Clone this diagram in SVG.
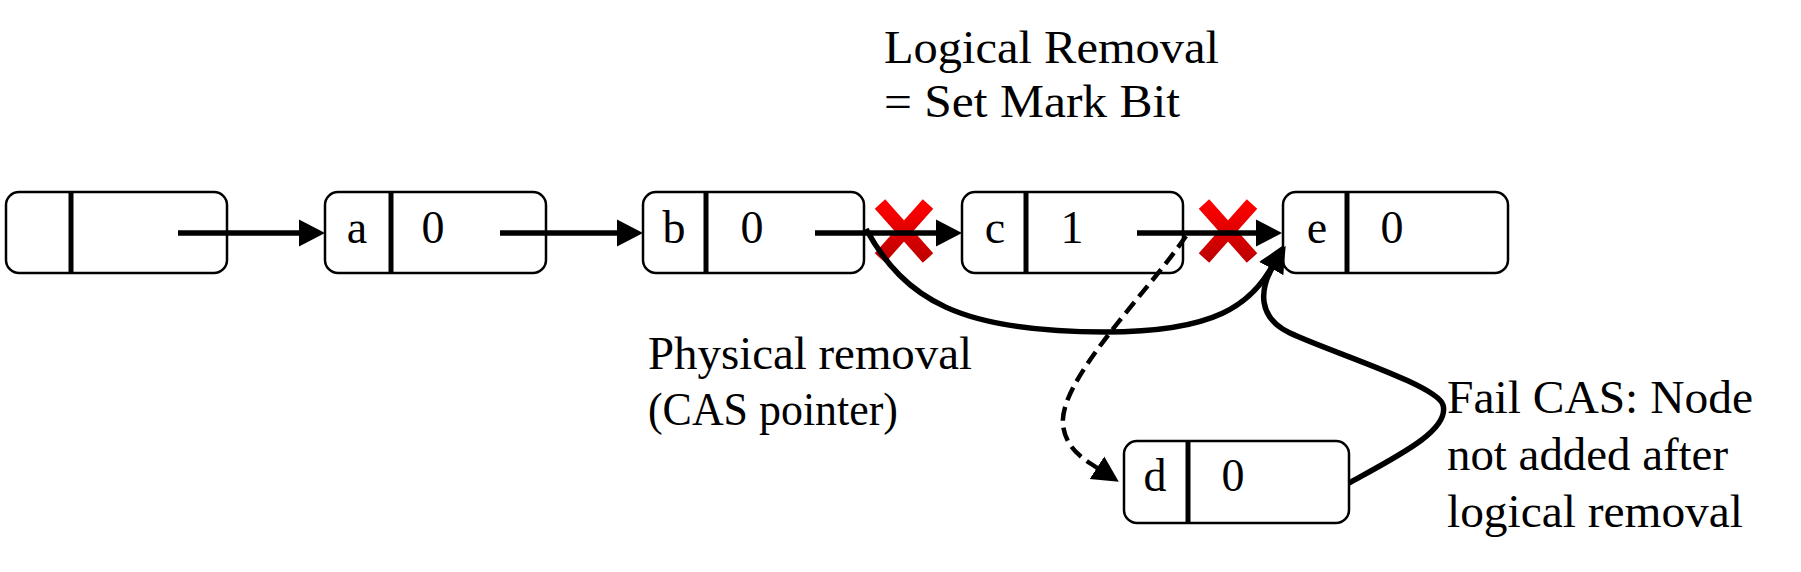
<svg xmlns="http://www.w3.org/2000/svg" width="1801" height="572" viewBox="0 0 1801 572">
<style>
.box{fill:#fff;stroke:#000;stroke-width:2.5}
.div{stroke:#000;stroke-width:5}
.t{font-family:"Liberation Serif","Times New Roman",serif;font-size:46px;fill:#000}
.lbl{font-family:"Liberation Serif","Times New Roman",serif;font-size:46px;fill:#000;text-anchor:middle}
.arr{fill:none;stroke:#000;stroke-width:5.5;marker-end:url(#ah)}
.dash{fill:none;stroke:#000;stroke-width:4.5;stroke-dasharray:14 7;marker-end:url(#ah)}
</style>
<defs>
<marker id="ah" markerUnits="userSpaceOnUse" viewBox="0 -15 28 30" refX="6" refY="0" markerWidth="28" markerHeight="30" orient="auto">
<path d="M0,-13.5 L26,0 L0,13.5 z" fill="#000"/>
</marker>
<linearGradient id="xg" x1="0" y1="0" x2="0" y2="1">
<stop offset="0" stop-color="#ff0000"/>
<stop offset="1" stop-color="#c00000"/>
</linearGradient>
<path id="xm" d="M-24,-27 L24,27 M24,-27 L-24,27" fill="none" stroke="url(#xg)" stroke-width="14"/>
</defs>

<g id="marks">
<use href="#xm" transform="translate(904,231)"/>
<use href="#xm" transform="translate(1228,231)"/>
</g>

<g id="n0">
<rect class="box" x="6" y="192" width="221" height="81" rx="13"/>
<line class="div" x1="71" y1="192" x2="71" y2="273"/>
</g>
<g id="na">
<rect class="box" x="325" y="192" width="221" height="81" rx="13"/>
<line class="div" x1="391" y1="192" x2="391" y2="273"/>
<text class="lbl" x="357" y="243">a</text>
<text class="lbl" x="433" y="243">0</text>
</g>
<g id="nb">
<rect class="box" x="643" y="192" width="221" height="81" rx="13"/>
<line class="div" x1="706" y1="192" x2="706" y2="273"/>
<text class="lbl" x="674" y="243">b</text>
<text class="lbl" x="752" y="243">0</text>
</g>
<g id="nc">
<rect class="box" x="962" y="192" width="221" height="81" rx="13"/>
<line class="div" x1="1026" y1="192" x2="1026" y2="273"/>
<text class="lbl" x="995" y="243">c</text>
<text class="lbl" x="1072" y="243">1</text>
</g>
<g id="ne">
<rect class="box" x="1283" y="192" width="225" height="81" rx="13"/>
<line class="div" x1="1347" y1="192" x2="1347" y2="273"/>
<text class="lbl" x="1317" y="243">e</text>
<text class="lbl" x="1392" y="243">0</text>
</g>
<g id="nd">
<rect class="box" x="1124" y="441" width="225" height="82" rx="13"/>
<line class="div" x1="1188" y1="441" x2="1188" y2="523"/>
<text class="lbl" x="1155" y="491">d</text>
<text class="lbl" x="1233" y="491">0</text>
</g>

<g id="connectors">
<path class="arr" d="M178,233 L305,233"/>
<path class="arr" d="M500,233 L623,233"/>
<path class="arr" d="M815,233 L942,233"/>
<path class="arr" d="M1137,233 L1262,233"/>
<path class="arr" d="M866,229 C905,300 960,332 1105,332 C1215,332 1252,305 1274,263"/>
<path class="arr" d="M1349,483 C1400,455 1450,430 1443,405 C1437,385 1330,352 1290,333 C1258,318 1258,290 1275,263"/>
<path class="dash" d="M1186,236 C1150,290 1058,380 1063,425 C1066,450 1085,460 1102,471"/>
</g>

<g id="labels">
<text class="t" x="884" y="63" textLength="335" lengthAdjust="spacingAndGlyphs">Logical Removal</text>
<text class="t" x="884" y="117" textLength="296" lengthAdjust="spacingAndGlyphs">= Set Mark Bit</text>
<text class="t" x="648" y="369" textLength="324" lengthAdjust="spacingAndGlyphs">Physical removal</text>
<text class="t" x="648" y="425" textLength="250" lengthAdjust="spacingAndGlyphs">(CAS pointer)</text>
<text class="t" x="1447" y="413" textLength="306" lengthAdjust="spacingAndGlyphs">Fail CAS: Node</text>
<text class="t" x="1447" y="470" textLength="281" lengthAdjust="spacingAndGlyphs">not added after</text>
<text class="t" x="1447" y="527" textLength="296" lengthAdjust="spacingAndGlyphs">logical removal</text>
</g>
</svg>
